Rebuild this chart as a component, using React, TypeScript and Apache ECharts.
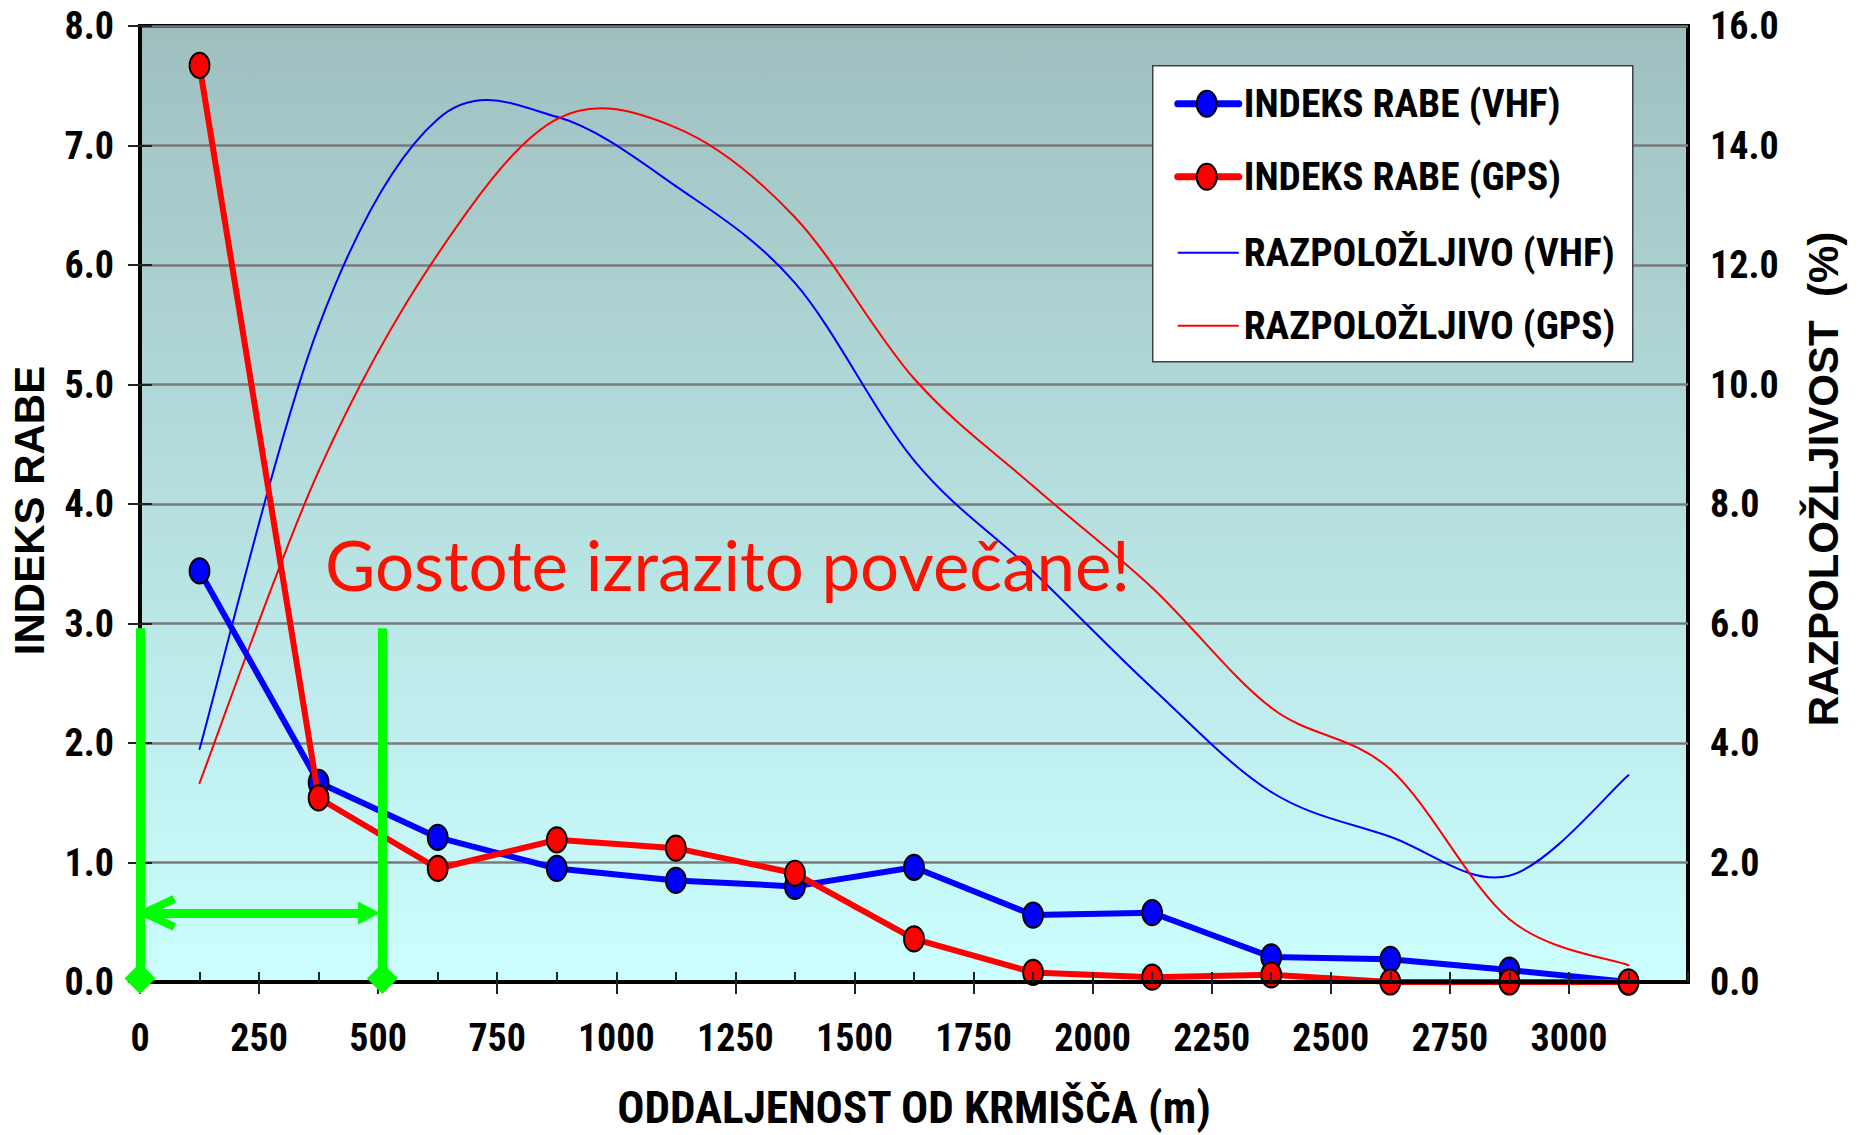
import React, { useEffect, useRef } from 'react';
import * as echarts from 'echarts';

// ---------- data ----------
const distances = [125, 375, 625, 875, 1125, 1375, 1625, 1875, 2125, 2375, 2625, 2875, 3125];
const indeksVHF = [3.44, 1.67, 1.21, 0.95, 0.85, 0.8, 0.96, 0.56, 0.58, 0.21, 0.19, 0.1, 0.0];
const indeksGPS = [7.67, 1.54, 0.95, 1.19, 1.12, 0.91, 0.36, 0.08, 0.04, 0.06, 0.0, 0.0, 0.0];
const razpVHF = [3.9, 10.97, 14.44, 14.48, 13.32, 11.7, 8.73, 6.87, 4.92, 3.18, 2.43, 1.78, 3.46];
const razpGPS = [3.33, 8.55, 12.18, 14.44, 14.3, 12.8, 10.1, 8.3, 6.6, 4.59, 3.56, 1.05, 0.28];

const seriesNames = ['INDEKS RABE (VHF)', 'INDEKS RABE (GPS)', 'RAZPOLOŽLJIVO (VHF)', 'RAZPOLOŽLJIVO (GPS)'];
const seriesColors = ['#0000ff', '#ff0000', '#0000ff', '#ff0000'];

// annotation (green bracket 0–500 m)
const rangeStart = 0;
const rangeEnd = 509;
const bracketTop = 2.96;
const bracketBase = 0.03;
const arrowLevel = 0.578;
const arrowFrom = 9;
const arrowTo = 481;
const annotationText = 'Gostote izrazito povečane!';

const NARROW = '"Liberation Sans Narrow", "Arial Narrow", "Roboto Condensed", "DejaVu Sans Condensed", sans-serif';
const WIDE = '"Liberation Sans", Arial, sans-serif';
const ELLIPSE = 'path://M0,-1 A1,1 0 1,1 0,1 A1,1 0 1,1 0,-1 Z';
// open chevron whose tip sits at the centre of its bounding box
const CHEVRON =
  'path://M17.6,0 L17.61,0 L17.6,0.01 Z M17.6,27.7 L21.2,30 L35.2,60 L28,63.4 L17.6,41.1 L7.2,63.4 L0,60 L14,30 Z';
const TRIANGLE = 'path://M11.5,0 L23,22 L0,22 Z';
const GREEN = '#00ff00';

const zip = (xs: number[], ys: number[]) => xs.map((x, i) => [x, ys[i]]);

// Smoothed (Catmull-Rom style, like the spreadsheet's smoothed line) series drawn via the axis scales
function smoothSeries(name: string, xs: number[], ys: number[], color: string) {
  const n = xs.length;
  return {
    name,
    type: 'custom',
    yAxisIndex: 1,
    data: zip(xs, ys),
    encode: { x: 0, y: 1 },
    silent: true,
    clip: false,
    z: 2,
    renderItem: (params: any, api: any) => {
      const i = params.dataIndex;
      if (i >= n - 1) return null;
      const P = (k: number) => {
        const j = Math.max(0, Math.min(n - 1, k));
        return api.coord([xs[j], ys[j]]);
      };
      const p0 = P(i - 1);
      const p1 = P(i);
      const p2 = P(i + 1);
      const p3 = P(i + 2);
      return {
        type: 'bezierCurve',
        shape: {
          x1: p1[0],
          y1: p1[1],
          x2: p2[0],
          y2: p2[1],
          cpx1: p1[0] + (p2[0] - p0[0]) / 6,
          cpy1: p1[1] + (p2[1] - p0[1]) / 6,
          cpx2: p2[0] - (p3[0] - p1[0]) / 6,
          cpy2: p2[1] - (p3[1] - p1[1]) / 6,
        },
        style: { stroke: color, lineWidth: 2, fill: 'none', lineCap: 'round' },
      };
    },
  };
}

function buildOption(): any {
  const rowsY = [38, 111, 187, 260];
  const Z = 100;
  const legendChildren: any[] = [
    {
      type: 'rect',
      z: Z,
      shape: { x: 0, y: 0, width: 480, height: 296 },
      style: { fill: '#ffffff', stroke: '#404040', lineWidth: 1.5 },
    },
  ];
  seriesNames.forEach((name, i) => {
    const thick = i < 2;
    legendChildren.push({
      type: 'line',
      z: Z + 1,
      shape: { x1: 25, y1: rowsY[i], x2: 86, y2: rowsY[i] },
      style: { stroke: seriesColors[i], lineWidth: thick ? 7 : 2, lineCap: thick ? 'round' : 'butt' },
    });
    if (thick) {
      legendChildren.push({
        type: 'ellipse',
        z: Z + 2,
        shape: { cx: 54, cy: rowsY[i], rx: 10, ry: 13 },
        style: { fill: seriesColors[i], stroke: '#000', lineWidth: 2 },
      });
    }
    legendChildren.push({
      type: 'text',
      z: Z + 2,
      x: 91,
      y: rowsY[i],
      style: {
        text: name,
        font: `bold 39.5px ${NARROW}`,
        fill: '#000',
        verticalAlign: 'middle',
        align: 'left',
      },
    });
  });

  const tickLine = { color: '#222', width: 2 };

  return {
    animation: false,
    backgroundColor: '#ffffff',
    grid: {
      left: 139,
      top: 26,
      width: 1549,
      height: 960,
      show: true,
      borderColor: '#000',
      borderWidth: 4,
      backgroundColor: {
        type: 'linear',
        x: 0,
        y: 0,
        x2: 0,
        y2: 1,
        colorStops: [
          { offset: 0, color: '#9fbfbf' },
          { offset: 1, color: '#ccffff' },
        ],
      },
    },
    xAxis: [
      {
        type: 'value',
        min: 0,
        max: 3250,
        interval: 250,
        axisLine: { show: true, onZero: false, lineStyle: { color: '#000', width: 4 } },
        axisTick: { show: true, length: 12, lineStyle: tickLine },
        axisLabel: {
          margin: 37,
          fontSize: 38,
          fontWeight: 'bold',
          fontFamily: NARROW,
          color: '#000',
          showMaxLabel: false,
          formatter: (v: number) => String(v),
        },
        splitLine: { show: false },
        name: 'ODDALJENOST OD KRMIŠČA (m)',
        nameLocation: 'middle',
        nameGap: 103,
        nameTextStyle: { fontSize: 45.2, fontWeight: 'bold', fontFamily: NARROW, color: '#000' },
        z: 5,
      },
      {
        // inner (minor) tick marks every 125 m
        type: 'value',
        min: 0,
        max: 3250,
        interval: 125,
        position: 'bottom',
        axisLine: { show: false },
        axisTick: { show: true, inside: true, length: 10, lineStyle: tickLine },
        axisLabel: { show: false },
        splitLine: { show: false },
        z: 5,
      },
    ],
    yAxis: [
      {
        type: 'value',
        position: 'left',
        min: 0,
        max: 8,
        interval: 1,
        axisLine: { show: true, lineStyle: { color: '#000', width: 4 } },
        axisTick: { show: true, length: 12, lineStyle: tickLine },
        axisLabel: {
          margin: 26,
          fontSize: 38,
          fontWeight: 'bold',
          fontFamily: NARROW,
          color: '#000',
          formatter: (v: number) => v.toFixed(1),
        },
        splitLine: { show: true, lineStyle: { color: '#7a7a7a', width: 2.5 } },
        name: 'INDEKS RABE',
        nameLocation: 'middle',
        nameRotate: 90,
        nameGap: 90,
        nameTextStyle: {
          fontSize: 42,
          fontWeight: 'bold',
          fontFamily: WIDE,
          color: '#000',
          padding: [0, 13, 0, 0],
        },
      },
      {
        type: 'value',
        position: 'right',
        min: 0,
        max: 16,
        interval: 2,
        axisLine: { show: true, lineStyle: { color: '#000', width: 4 } },
        axisTick: { show: true, length: 12, lineStyle: tickLine },
        axisLabel: {
          margin: 22,
          fontSize: 38,
          fontWeight: 'bold',
          fontFamily: NARROW,
          color: '#000',
          formatter: (v: number) => v.toFixed(1),
        },
        splitLine: { show: false },
        name: 'RAZPOLOŽLJIVOST  (%)',
        nameLocation: 'middle',
        nameRotate: 90,
        nameGap: 114,
        nameTextStyle: {
          fontSize: 42,
          fontWeight: 'bold',
          fontFamily: WIDE,
          color: '#000',
          padding: [0, 0, 0, 50],
        },
      },
    ],
    series: [
      smoothSeries(seriesNames[2], distances, razpVHF, seriesColors[2]),
      smoothSeries(seriesNames[3], distances, razpGPS, seriesColors[3]),
      {
        name: seriesNames[0],
        type: 'line',
        yAxisIndex: 0,
        data: zip(distances, indeksVHF),
        symbol: ELLIPSE,
        symbolSize: [20, 25],
        showAllSymbol: true,
        lineStyle: { color: seriesColors[0], width: 6 },
        itemStyle: { color: seriesColors[0], borderColor: '#000', borderWidth: 2 },
        silent: true,
        clip: false,
        z: 3,
      },
      {
        name: seriesNames[1],
        type: 'line',
        yAxisIndex: 0,
        data: zip(distances, indeksGPS),
        symbol: ELLIPSE,
        symbolSize: [20, 25],
        showAllSymbol: true,
        lineStyle: { color: seriesColors[1], width: 6 },
        itemStyle: { color: seriesColors[1], borderColor: '#000', borderWidth: 2 },
        silent: true,
        clip: false,
        z: 4,
        markLine: {
          silent: true,
          animation: false,
          label: { show: false },
          lineStyle: { color: GREEN, width: 9, type: 'solid', opacity: 1 },
          itemStyle: { color: GREEN },
          data: [
            [
              { coord: [rangeStart, bracketBase], symbol: 'none' },
              { coord: [rangeStart, bracketTop], symbol: 'none' },
            ],
            [
              { coord: [rangeEnd, bracketBase], symbol: 'none' },
              { coord: [rangeEnd, bracketTop], symbol: 'none' },
            ],
            [
              {
                coord: [arrowFrom, arrowLevel],
                symbol: CHEVRON,
                symbolSize: [35.2, 63.4],
                lineStyle: { width: 9 },
              },
              { coord: [arrowTo, arrowLevel], symbol: TRIANGLE, symbolSize: [23, 22] },
            ],
          ],
        },
      },
      {
        // diamond feet of the green bracket
        name: 'bracket',
        type: 'scatter',
        yAxisIndex: 0,
        data: [
          [rangeStart, bracketBase],
          [rangeEnd, bracketBase],
        ],
        symbol: 'diamond',
        symbolSize: 31,
        itemStyle: { color: GREEN, opacity: 1 },
        silent: true,
        clip: false,
        z: 6,
      },
    ],
    graphic: [
      {
        type: 'group',
        left: 1152,
        top: 65,
        z: Z,
        children: legendChildren,
      },
      {
        type: 'text',
        x: 325,
        y: 564,
        style: {
          text: annotationText,
          font: `69px Lato, "Open Sans", sans-serif`,
          fill: '#ff1100',
          verticalAlign: 'middle',
          align: 'left',
        },
        z: Z,
      },
    ],
  };
}

export default function App() {
  const ref = useRef<HTMLDivElement>(null);
  useEffect(() => {
    if (!ref.current) return;
    const chart = echarts.init(ref.current, null, { renderer: 'svg' });
    chart.setOption(buildOption());
    return () => chart.dispose();
  }, []);
  return (
    <div
      ref={ref}
      style={{ position: 'fixed', left: 0, top: 0, width: 1863, height: 1135, background: '#ffffff' }}
    />
  );
}
